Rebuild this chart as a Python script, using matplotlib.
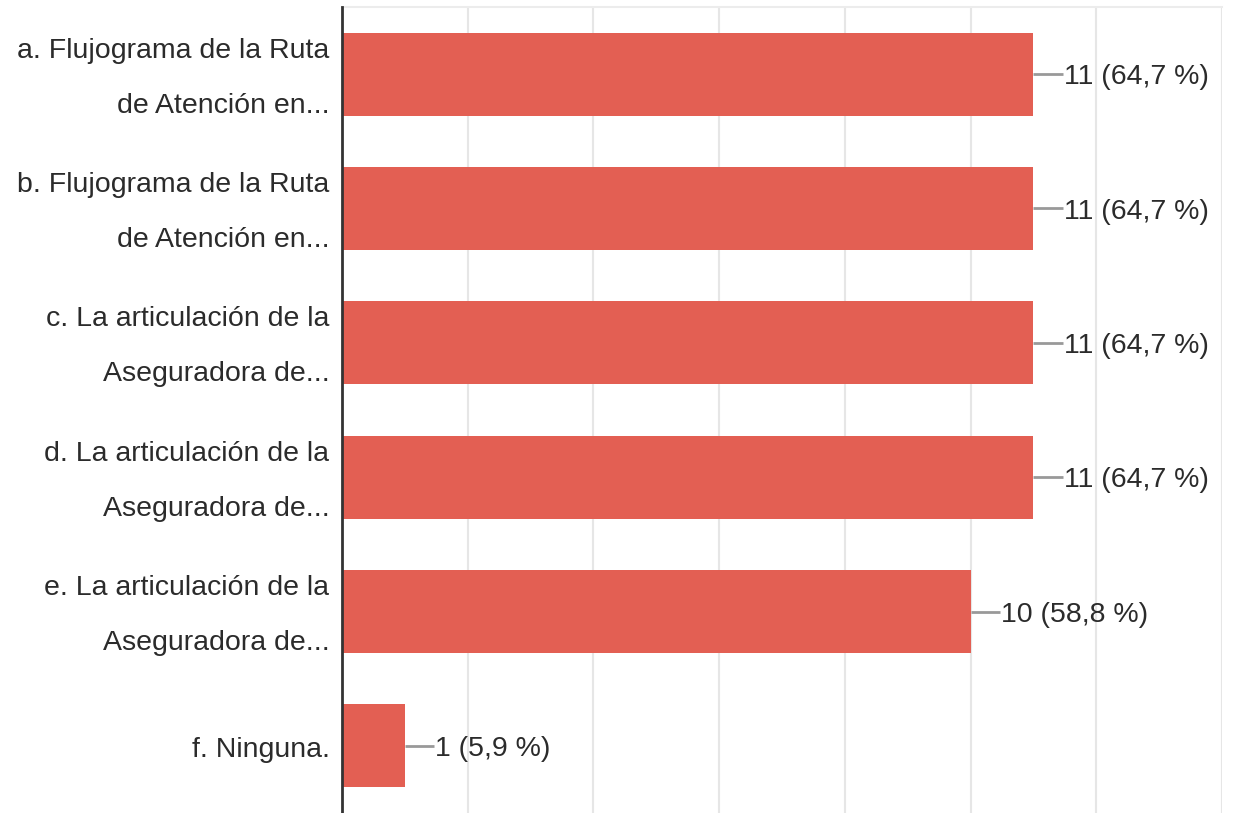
import matplotlib
matplotlib.use("Agg")
import matplotlib.pyplot as plt
import matplotlib.transforms as mtransforms
import numpy as np

plt.rcParams["font.family"] = ["Liberation Sans", "DejaVu Sans"]

labels = [
    "a. Flujograma de la Ruta\nde Atención en...",
    "b. Flujograma de la Ruta\nde Atención en...",
    "c. La articulación de la\nAseguradora de...",
    "d. La articulación de la\nAseguradora de...",
    "e. La articulación de la\nAseguradora de...",
    "f. Ninguna.",
]
counts = [11, 11, 11, 11, 10, 1]
percents = [64.7, 64.7, 64.7, 64.7, 58.8, 5.9]

BAR_COLOR = "#e35f53"
TEXT_COLOR = "#2b2b2b"
FS = 20.5

fig = plt.figure(figsize=(12.35, 8.13), dpi=100)
ax = fig.add_axes([342 / 1235, 0.0, (1222 - 342) / 1235, 1 - 7 / 813])

y = np.arange(len(labels))
ax.barh(y, counts, height=0.62, color=BAR_COLOR, zorder=3)

for yi, c, p in zip(y, counts, percents):
    ax.plot([c, c + 0.47], [yi, yi], color="#999999", lw=2, zorder=3,
            solid_capstyle="butt")
    pct = f"{p:.1f}".replace(".", ",")
    ax.text(c + 0.48, yi, f"{c} ({pct} %)", va="center_baseline", ha="left",
            fontsize=FS, color=TEXT_COLOR)

ax.set_xlim(0, 14)
ax.set_ylim(len(labels) - 0.5, -0.5)
ax.set_xticks(np.arange(0, 15, 2))
ax.set_xticklabels([])
ax.tick_params(axis="x", length=0)
ax.xaxis.grid(True, color="#e6e6e6", lw=1.5, zorder=0)

ax.set_yticks(y)
ax.set_yticklabels(labels, fontsize=FS, color=TEXT_COLOR, linespacing=2.45,
                   va="center")
ax.tick_params(axis="y", length=0, pad=9)
# nudge category labels down a few pixels
shift = mtransforms.ScaledTranslation(0, -4 / 100, fig.dpi_scale_trans)
for lab in ax.get_yticklabels():
    lab.set_transform(lab.get_transform() + shift)

ax.spines["left"].set_color("#333333")
ax.spines["left"].set_linewidth(2)
ax.spines["left"].set_zorder(4)
ax.spines["top"].set_color("#ececec")
ax.spines["top"].set_linewidth(1.5)
ax.spines["right"].set_visible(False)
ax.spines["bottom"].set_visible(False)

fig.savefig("out.png", dpi=100)
